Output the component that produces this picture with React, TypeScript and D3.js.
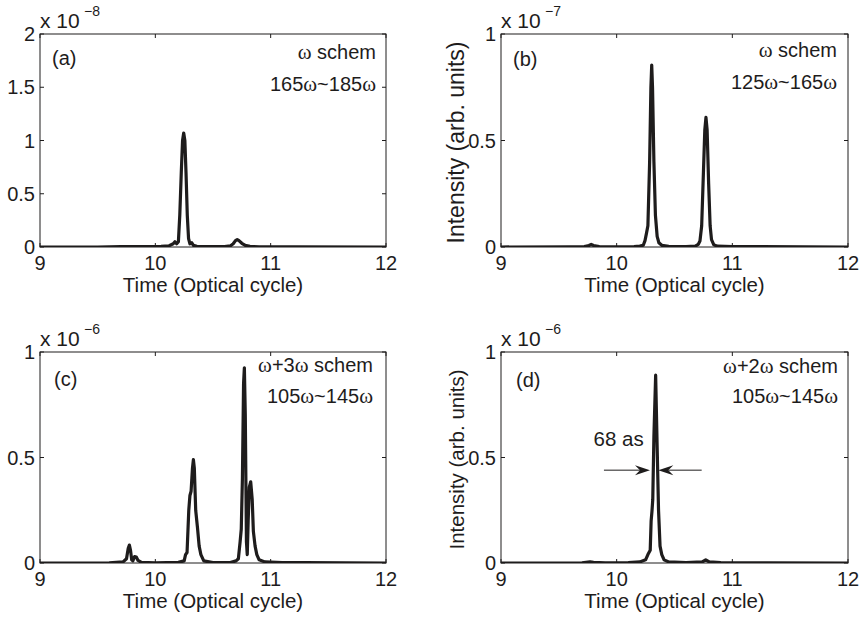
import React from 'react';
import * as d3 from 'd3';

// ---------- data (time in optical cycles, intensity in units of the panel multiplier) ----------
const timeA = [9.0, 9.5, 9.7, 9.9, 10.05, 10.12, 10.155, 10.17, 10.185, 10.2, 10.212, 10.225, 10.236, 10.246, 10.256, 10.266, 10.277, 10.288, 10.3, 10.315, 10.33, 10.36, 10.45, 10.6, 10.65, 10.675, 10.695, 10.71, 10.725, 10.75, 10.78, 10.82, 10.9, 11.2, 12.0];
const intensityA = [0, 0, 0.003, 0.003, 0.005, 0.012, 0.03, 0.05, 0.03, 0.05, 0.3, 0.7, 1.0, 1.07, 1.0, 0.7, 0.3, 0.08, 0.03, 0.04, 0.015, 0.006, 0.003, 0.004, 0.01, 0.03, 0.06, 0.07, 0.06, 0.035, 0.015, 0.006, 0.002, 0.001, 0];

const timeB = [9.0, 9.6, 9.72, 9.76, 9.78, 9.8, 9.85, 10.0, 10.15, 10.2, 10.23, 10.245, 10.258, 10.27, 10.285, 10.296, 10.303, 10.31, 10.322, 10.335, 10.35, 10.365, 10.39, 10.45, 10.6, 10.68, 10.705, 10.72, 10.735, 10.75, 10.762, 10.772, 10.782, 10.795, 10.808, 10.82, 10.84, 10.87, 11.0, 11.2, 12.0];
const intensityB = [0, 0.001, 0.002, 0.007, 0.012, 0.007, 0.002, 0.001, 0.002, 0.004, 0.008, 0.03, 0.065, 0.1, 0.4, 0.75, 0.854, 0.75, 0.4, 0.15, 0.05, 0.02, 0.008, 0.003, 0.002, 0.004, 0.012, 0.028, 0.1, 0.35, 0.55, 0.609, 0.55, 0.3, 0.1, 0.035, 0.01, 0.004, 0.002, 0.002, 0];

const timeC = [9.0, 9.6, 9.72, 9.75, 9.765, 9.775, 9.785, 9.795, 9.805, 9.82, 9.835, 9.85, 9.88, 10.0, 10.2, 10.25, 10.262, 10.275, 10.29, 10.3, 10.31, 10.322, 10.33, 10.338, 10.35, 10.365, 10.38, 10.395, 10.42, 10.5, 10.65, 10.7, 10.72, 10.735, 10.745, 10.755, 10.765, 10.772, 10.78, 10.79, 10.797, 10.805, 10.815, 10.827, 10.84, 10.85, 10.865, 10.88, 10.9, 10.95, 11.1, 11.3, 12.0];
const intensityC = [0, 0.001, 0.005, 0.02, 0.07, 0.085, 0.06, 0.015, 0.01, 0.03, 0.028, 0.012, 0.003, 0.001, 0.003, 0.01, 0.04, 0.05, 0.25, 0.32, 0.34, 0.45, 0.49, 0.45, 0.25, 0.17, 0.08, 0.04, 0.01, 0.002, 0.002, 0.01, 0.02, 0.1, 0.16, 0.4, 0.85, 0.925, 0.7, 0.1, 0.04, 0.2, 0.36, 0.385, 0.3, 0.15, 0.08, 0.04, 0.015, 0.005, 0.002, 0.002, 0];

const timeD = [9.0, 9.7, 9.77, 9.8, 9.9, 10.1, 10.2, 10.25, 10.27, 10.29, 10.298, 10.305, 10.312, 10.322, 10.337, 10.35, 10.362, 10.375, 10.39, 10.41, 10.45, 10.6, 10.74, 10.77, 10.8, 10.9, 11.3, 12.0];
const intensityD = [0, 0.001, 0.005, 0.003, 0.001, 0.002, 0.005, 0.015, 0.04, 0.06, 0.2, 0.243, 0.3, 0.6, 0.89, 0.55, 0.25, 0.08, 0.04, 0.015, 0.005, 0.002, 0.005, 0.015, 0.005, 0.002, 0.001, 0];

const xTicks = [9, 10, 11, 12];
const yTicksA = [0, 0.5, 1, 1.5, 2];
const yTicksBCD = [0, 0.5, 1];
const yMaxes = [2, 1, 1, 1];
const exponents = ['\u22128', '\u22127', '\u22126', '\u22126'];
const panelLetters = ['(a)', '(b)', '(c)', '(d)'];
const schemeLabels = ['\u03c9 schem', '\u03c9 schem', '\u03c9+3\u03c9 schem', '\u03c9+2\u03c9 schem'];
const rangeLabels = ['165\u03c9~185\u03c9', '125\u03c9~165\u03c9', '105\u03c9~145\u03c9', '105\u03c9~145\u03c9'];

// FWHM annotation in panel (d), data units
const fwhmLabel = '68 as';
const fwhmLevel = 0.44;
const fwhmLeftArrow = [9.89, 10.288];
const fwhmRightArrow = [10.735, 10.36];
const fwhmLabelPos = [9.8, 0.555];

// ---------- layout ----------
const W = 859;
const H = 621;
const FONT = '"Liberation Sans", Arial, Helvetica, sans-serif';
const SERIF = '"Liberation Serif", "Times New Roman", serif';
const INK = '#1e1c1c';

const layouts = [
  { left: 40, right: 386, top: 34, bottom: 247, letterDx: 12, letterDy: 31, schemeDx: 10, schemeDy: 25, rangeDy: 57, ylabel: false },
  { left: 501, right: 848, top: 34, bottom: 247, letterDx: 12, letterDy: 32, schemeDx: 11, schemeDy: 23, rangeDy: 55, ylabel: true, ylabelSize: 23 },
  { left: 40, right: 386, top: 352, bottom: 563, letterDx: 14, letterDy: 34, schemeDx: 13, schemeDy: 20, rangeDy: 51, ylabel: false },
  { left: 501, right: 848, top: 352, bottom: 563, letterDx: 15, letterDy: 35, schemeDx: 10, schemeDy: 21, rangeDy: 51, ylabel: true, ylabelSize: 20.5 },
];

const series = [
  [timeA, intensityA],
  [timeB, intensityB],
  [timeC, intensityC],
  [timeD, intensityD],
];

function omegaText(s: string) {
  const parts = s.split('\u03c9');
  const out: any[] = [];
  parts.forEach((p, i) => {
    if (p) out.push(<tspan key={'p' + i}>{p}</tspan>);
    if (i < parts.length - 1) out.push(<tspan key={'w' + i} fontFamily={SERIF} fontSize="21">{'\u03c9'}</tspan>);
  });
  return out;
}

function arrowHead(tipX: number, tipY: number, dir: number) {
  // dir = +1 pointing right, -1 pointing left
  const L = 15, Wd = 5, notch = 10;
  const bx = tipX - dir * L;
  const nx = tipX - dir * notch;
  return `M${tipX},${tipY} L${bx},${tipY - Wd} L${nx},${tipY} L${bx},${tipY + Wd} Z`;
}

function Panel({ idx }: { idx: number }) {
  const lay = layouts[idx];
  const x = d3.scaleLinear().domain([9, 12]).range([lay.left, lay.right]);
  const y = d3.scaleLinear().domain([0, yMaxes[idx]]).range([lay.bottom, lay.top]);
  const yTicks = idx === 0 ? yTicksA : yTicksBCD;
  const [ts, vs] = series[idx];
  const pts: [number, number][] = ts.map((t, i) => [t, vs[i]]);
  const line = d3.line<[number, number]>().x(d => x(d[0])).y(d => y(d[1]));
  const tickLen = 4;

  return (
    <g>
      <defs>
        <clipPath id={'clip' + idx}>
          <rect x={lay.left} y={lay.top - 2} width={lay.right - lay.left} height={lay.bottom - lay.top + 2} />
        </clipPath>
      </defs>
      {/* curve */}
      <path d={line(pts) || ''} fill="none" stroke={INK} strokeWidth={3.2} strokeLinejoin="round" strokeLinecap="round" clipPath={`url(#clip${idx})`} />
      {/* box */}
      <rect x={lay.left} y={lay.top} width={lay.right - lay.left} height={lay.bottom - lay.top} fill="none" stroke={INK} strokeWidth={1} />
      {/* x ticks */}
      {xTicks.map(t => (
        <g key={'xt' + t}>
          <line x1={x(t)} x2={x(t)} y1={lay.bottom} y2={lay.bottom - tickLen} stroke={INK} strokeWidth={1} />
          <line x1={x(t)} x2={x(t)} y1={lay.top} y2={lay.top + tickLen} stroke={INK} strokeWidth={1} />
          <text x={x(t)} y={lay.bottom + 23} textAnchor="middle" fontFamily={FONT} fontSize={20} fill={INK}>{t}</text>
        </g>
      ))}
      {/* y ticks */}
      {yTicks.map(v => (
        <g key={'yt' + v}>
          <line x1={lay.left} x2={lay.left + tickLen} y1={y(v)} y2={y(v)} stroke={INK} strokeWidth={1} />
          <line x1={lay.right} x2={lay.right - tickLen} y1={y(v)} y2={y(v)} stroke={INK} strokeWidth={1} />
          <text x={lay.left - 5} y={y(v)} dy="0.36em" textAnchor="end" fontFamily={FONT} fontSize={20} fill={INK}>{String(v)}</text>
        </g>
      ))}
      {/* multiplier */}
      <text x={lay.left} y={lay.top - 6} fontFamily={FONT} fontSize={21} fill={INK}>x 10</text>
      <text x={lay.left + 44} y={lay.top - 18} fontFamily={FONT} fontSize={14} fill={INK}>{exponents[idx]}</text>
      {/* x label */}
      <text x={(lay.left + lay.right) / 2} y={lay.bottom + 45} textAnchor="middle" fontFamily={FONT} fontSize={20.5} fill={INK}>Time (Optical cycle)</text>
      {/* y label */}
      {lay.ylabel && (
        <text transform={`translate(${lay.left - 37},${(lay.top + lay.bottom) / 2 + 2}) rotate(-90)`} textAnchor="middle" fontFamily={FONT} fontSize={lay.ylabelSize} fill={INK}>Intensity (arb. units)</text>
      )}
      {/* annotations */}
      <text x={lay.left + lay.letterDx} y={lay.top + lay.letterDy} fontFamily={FONT} fontSize={20} fill={INK}>{panelLetters[idx]}</text>
      <text x={lay.right - lay.schemeDx} y={lay.top + lay.schemeDy} textAnchor="end" fontFamily={FONT} fontSize={20} fill={INK}>{omegaText(schemeLabels[idx])}</text>
      <text x={lay.right - lay.schemeDx} y={lay.top + lay.rangeDy} textAnchor="end" fontFamily={FONT} fontSize={20} fill={INK}>{omegaText(rangeLabels[idx])}</text>
      {idx === 3 && (
        <g>
          <line x1={x(fwhmLeftArrow[0])} x2={x(fwhmLeftArrow[1]) - 10} y1={y(fwhmLevel)} y2={y(fwhmLevel)} stroke={INK} strokeWidth={1} />
          <path d={arrowHead(x(fwhmLeftArrow[1]), y(fwhmLevel), 1)} fill={INK} />
          <line x1={x(fwhmRightArrow[0])} x2={x(fwhmRightArrow[1]) + 10} y1={y(fwhmLevel)} y2={y(fwhmLevel)} stroke={INK} strokeWidth={1} />
          <path d={arrowHead(x(fwhmRightArrow[1]), y(fwhmLevel), -1)} fill={INK} />
          <text x={x(fwhmLabelPos[0])} y={y(fwhmLabelPos[1])} fontFamily={FONT} fontSize={20.5} fill={INK}>{fwhmLabel}</text>
        </g>
      )}
    </g>
  );
}

export default function App() {
  return (
    <div style={{ position: 'absolute', left: 0, top: 0, width: W, height: H, background: '#fff' }}>
      <svg width={W} height={H} viewBox={`0 0 ${W} ${H}`} style={{ display: 'block' }}>
        <rect width={W} height={H} fill="#fff" />
        {[0, 1, 2, 3].map(i => <Panel key={i} idx={i} />)}
      </svg>
    </div>
  );
}
